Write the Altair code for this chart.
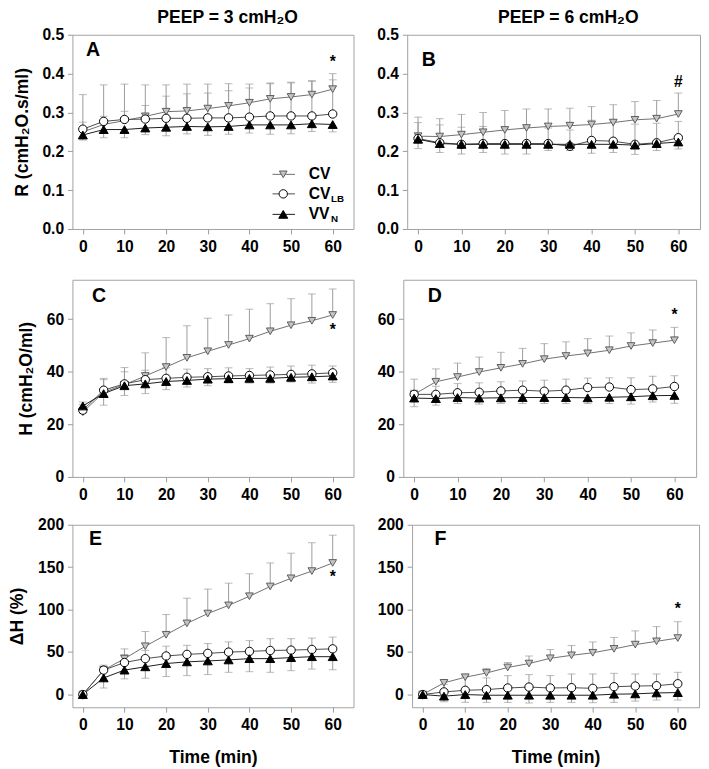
import altair as alt
import pandas as pd

FONT = "Liberation Sans"
ERR = "#9a9a9a"

t = [0, 5, 10, 15, 20, 25, 30, 35, 40, 45, 50, 55, 60]
series = ["CV", "CV_LB", "VV_N"]
x_ticks = [0, 10, 20, 30, 40, 50, 60]

# Panel A  (R, PEEP = 3)
A_CV = [0.250, 0.269, 0.279, 0.290, 0.302, 0.304, 0.310, 0.317, 0.325, 0.335, 0.340, 0.346, 0.360]
A_CV_e = [0.346, 0.371, 0.373, 0.371, 0.371, 0.373, 0.373, 0.374, 0.373, 0.376, 0.376, 0.380, 0.400]
A_LB = [0.257, 0.277, 0.282, 0.283, 0.285, 0.285, 0.286, 0.286, 0.288, 0.291, 0.291, 0.291, 0.296]
A_LB_e = [0.275, 0.290, 0.303, 0.318, 0.342, 0.348, 0.350, 0.356, 0.363, 0.374, 0.378, 0.382, 0.384]
A_VV = [0.242, 0.256, 0.256, 0.260, 0.262, 0.264, 0.263, 0.264, 0.268, 0.268, 0.268, 0.271, 0.269]
A_VV_e = [0.229, 0.235, 0.235, 0.243, 0.240, 0.245, 0.241, 0.244, 0.247, 0.244, 0.245, 0.251, 0.250]

# Panel B  (R, PEEP = 6)
B_CV = [0.239, 0.238, 0.243, 0.249, 0.255, 0.260, 0.264, 0.266, 0.269, 0.274, 0.281, 0.284, 0.296]
B_CV_e = [0.288, 0.284, 0.295, 0.300, 0.305, 0.309, 0.309, 0.311, 0.315, 0.320, 0.328, 0.331, 0.350]
B_LB = [0.233, 0.222, 0.218, 0.220, 0.220, 0.220, 0.220, 0.213, 0.228, 0.226, 0.218, 0.222, 0.235]
B_LB_e = [0.274, 0.268, 0.262, 0.264, 0.260, 0.262, 0.260, 0.255, 0.280, 0.275, 0.270, 0.272, 0.277]
B_VV = [0.231, 0.220, 0.218, 0.218, 0.218, 0.218, 0.218, 0.218, 0.218, 0.218, 0.216, 0.220, 0.224]
B_VV_e = [0.207, 0.197, 0.193, 0.197, 0.193, 0.193, 0.202, 0.202, 0.195, 0.197, 0.192, 0.202, 0.206]

# Panel C  (H, PEEP = 3)
C_CV = [24.6, 32.2, 35.1, 38.4, 41.8, 45.3, 47.8, 50.2, 52.6, 55.4, 57.7, 59.4, 61.6]
C_CV_e = [27.5, 37.5, 41.6, 47.2, 53.0, 57.5, 60.4, 61.6, 63.8, 65.9, 67.8, 69.6, 71.5]
C_LB = [25.4, 33.0, 35.4, 37.0, 37.5, 37.9, 38.1, 38.4, 38.6, 38.8, 39.0, 39.2, 39.6]
C_LB_e = [28.5, 37.0, 40.0, 40.6, 41.5, 41.0, 41.2, 41.5, 41.2, 41.8, 42.2, 42.5, 42.2]
C_VV = [27.0, 31.7, 34.7, 35.4, 36.3, 36.7, 37.2, 37.4, 37.5, 37.5, 37.9, 38.1, 38.4]
C_VV_e = [24.2, 27.3, 31.0, 31.7, 33.2, 34.2, 34.7, 35.7, 35.7, 35.7, 36.1, 35.7, 36.0]

# Panel D  (H, PEEP = 6)
D_CV = [31.4, 36.2, 38.0, 39.9, 41.5, 43.0, 44.8, 46.0, 47.0, 48.2, 49.8, 50.9, 52.0]
D_CV_e = [37.2, 41.1, 43.3, 45.6, 47.4, 48.9, 50.7, 51.4, 52.6, 53.6, 54.8, 55.9, 56.9]
D_LB = [31.4, 31.4, 32.0, 32.2, 32.7, 33.0, 32.6, 33.0, 34.0, 34.2, 33.2, 33.5, 34.4]
D_LB_e = [33.0, 34.5, 35.5, 35.8, 36.2, 36.5, 36.8, 37.2, 37.6, 37.7, 37.7, 38.3, 38.5]
D_VV = [30.0, 29.8, 30.2, 30.0, 30.1, 30.2, 30.2, 30.2, 30.1, 30.3, 30.5, 30.9, 31.0]
D_VV_e = [26.7, 27.3, 27.9, 27.7, 27.9, 27.9, 27.9, 27.9, 27.9, 27.9, 27.7, 28.5, 28.0]

# Panel E  (dH %, PEEP = 3)
E_CV = [0, 28.8, 42.3, 56.9, 70.4, 83.8, 95.4, 105.0, 115.8, 127.3, 136.9, 145.4, 155.0]
E_CV_e = [0, 34.6, 53.8, 74.2, 94.2, 113.5, 124.2, 131.2, 142.3, 155.0, 166.5, 178.8, 187.7]
E_LB = [0, 28.8, 37.7, 42.3, 45.4, 47.3, 48.5, 50.0, 50.8, 51.9, 52.3, 53.1, 53.8]
E_LB_e = [0, 33.0, 47.0, 52.0, 57.0, 58.0, 60.0, 62.0, 63.5, 65.8, 65.8, 66.5, 67.7]
E_VV = [0, 19.6, 28.8, 32.7, 36.5, 38.5, 39.6, 40.8, 42.3, 42.3, 43.5, 44.6, 44.6]
E_VV_e = [0, 7.7, 18.5, 19.2, 21.2, 22.3, 23.5, 26.2, 26.9, 26.2, 28.1, 30.0, 29.2]

# Panel F  (dH %, PEEP = 6)
F_CV = [0, 13.8, 20.4, 25.4, 31.9, 36.5, 42.7, 46.2, 49.2, 53.8, 58.8, 62.7, 66.5]
F_CV_e = [0, 16.5, 23.0, 30.8, 37.7, 45.4, 53.0, 57.7, 61.9, 67.3, 75.0, 80.0, 85.8]
F_LB = [0, 3.1, 5.0, 5.8, 7.7, 8.8, 7.7, 8.1, 7.3, 9.2, 10.0, 10.4, 12.7]
F_LB_e = [0, 12.0, 21.0, 19.6, 22.3, 23.5, 22.3, 24.2, 24.2, 25.0, 24.2, 24.2, 26.2]
F_VV = [0, -1.9, 0, -0.8, -0.8, -0.8, -0.8, -0.8, -0.8, 0.4, 0.8, 1.9, 2.3]
F_VV_e = [0, -8.5, -9.2, -9.2, -9.2, -10.0, -9.2, -9.2, -9.6, -9.2, -7.7, -6.5, -6.5]

line_colors = ["#6e6e6e", "#4a4a4a", "#1a1a1a"]
fill_colors = ["#c4c4c4", "#ffffff", "#000000"]
stroke_colors = ["#5a5a5a", "#000000", "#000000"]
shapes = ["triangle-down", "circle", "triangle-up"]
sizes = [62, 85, 62]


def sc(rng):
    return alt.Scale(domain=series, range=rng)


def panel(letter, vals, ydomain, yticks, yfmt, width, height, letter_xy,
          star, star_y, ytitle=None, xtitle=None, title=None, legend=False):
    cv, cv_e, lb, lb_e, vv, vv_e = vals
    df = pd.DataFrame({
        "t": t * 3,
        "v": cv + lb + vv,
        "e": cv_e + lb_e + vv_e,
        "s": ["CV"] * 13 + ["CV_LB"] * 13 + ["VV_N"] * 13,
    })
    xs = alt.Scale(domain=[-2.5, 65], nice=False, zero=False)
    ys = alt.Scale(domain=ydomain, nice=False, zero=False)
    xax = alt.Axis(values=x_ticks, format="d", labelPadding=5, titlePadding=17)
    yax = alt.Axis(values=yticks, format=yfmt, labelPadding=4, titlePadding=11)

    def X():
        return alt.X("t:Q", scale=xs, axis=xax, title=xtitle)

    def Y(f="v"):
        return alt.Y(f + ":Q", scale=ys, axis=yax, title=ytitle)

    base = alt.Chart(df)
    bars = base.mark_rule(color=ERR, strokeWidth=1).encode(x=X(), y=Y(), y2="e:Q")
    caps = base.mark_tick(color=ERR, orient="horizontal", size=8, thickness=1).encode(x=X(), y=Y("e"))
    lines = base.mark_line(strokeWidth=1).encode(
        x=X(), y=Y(),
        color=alt.Color("s:N", scale=sc(line_colors), legend=None))
    pts_enc = dict(
        shape=alt.Shape("s:N", scale=sc(shapes), legend=None),
        fill=alt.Fill("s:N", scale=sc(fill_colors), legend=None),
        stroke=alt.Stroke("s:N", scale=sc(stroke_colors), legend=None),
        size=alt.Size("s:N", scale=sc(sizes), legend=None),
    )
    pts = base.mark_point(opacity=1, fillOpacity=1, strokeWidth=1).encode(x=X(), y=Y(), **pts_enc)
    ann = alt.Chart(pd.DataFrame({"t": [60], "v": [star_y], "txt": [star]})).mark_text(
        font=FONT, fontSize=16, fontWeight="bold", color="black").encode(x=X(), y=Y(), text="txt:N")
    lab = alt.Chart(pd.DataFrame({"l": [letter]})).mark_text(
        font=FONT, fontSize=20, fontWeight="bold", color="black", align="left", baseline="middle"
    ).encode(x=alt.value(letter_xy[0]), y=alt.value(letter_xy[1]), text="l:N")
    layers = [bars, caps, lines, pts, ann, lab]
    if legend:
        leg = pd.DataFrame({"s": series, "py": [143, 163, 184],
                            "main": ["CV", "CV", "VV"], "sub": ["", "LB", "N"]})
        ly = alt.Y("py:Q", scale=None, axis=None)
        lb_ = alt.Chart(leg)
        layers += [
            lb_.mark_rule(strokeWidth=1).encode(
                x=alt.value(205), x2=alt.value(228), y=ly,
                color=alt.Color("s:N", scale=sc(line_colors), legend=None)),
            lb_.mark_point(opacity=1, fillOpacity=1, strokeWidth=1).encode(
                x=alt.value(216), y=ly, **pts_enc),
            lb_.mark_text(font=FONT, fontSize=16, fontWeight="bold", align="left",
                          baseline="middle", color="black").encode(
                x=alt.value(242), y=ly, text="main:N"),
            lb_.mark_text(font=FONT, fontSize=10, fontWeight="bold", align="left",
                          baseline="middle", color="black", dy=5).encode(
                x=alt.value(265), y=ly, text="sub:N"),
        ]
    ch = alt.layer(*layers).properties(width=width, height=height)
    if title:
        ch = ch.properties(title=alt.TitleParams(
            title, font=FONT, fontSize=18, fontWeight="bold", color="black",
            anchor="middle", frame="group", dx=15, offset=0))
    return ch


Rt = [0, 0.1, 0.2, 0.3, 0.4, 0.5]
Ht = [0, 20, 40, 60]
Dt = [0, 50, 100, 150, 200]

A = panel("A", [A_CV, A_CV_e, A_LB, A_LB_e, A_VV, A_VV_e], [0, 0.5], Rt, ".1f", 288, 199,
          (14, 16), "*", 0.43, ytitle="R (cmH₂O.s/ml)", title="PEEP = 3 cmH₂O", legend=True)
B = panel("B", [B_CV, B_CV_e, B_LB, B_LB_e, B_VV, B_VV_e], [0, 0.5], Rt, ".1f", 300, 199,
          (15, 26), "#", 0.377, title="PEEP = 6 cmH₂O")
C = panel("C", [C_CV, C_CV_e, C_LB, C_LB_e, C_VV, C_VV_e], [0, 75], Ht, "d", 288, 202,
          (20, 17), "*", 56, ytitle="H (cmH₂O/ml)")
D = panel("D", [D_CV, D_CV_e, D_LB, D_LB_e, D_VV, D_VV_e], [0, 75], Ht, "d", 300, 202,
          (25, 17), "*", 61.5)
E = panel("E", [E_CV, E_CV_e, E_LB, E_LB_e, E_VV, E_VV_e], [-15, 200], Dt, "d", 288, 187,
          (17, 15), "*", 138, ytitle="ΔH (%)", xtitle="Time (min)")
F = panel("F", [F_CV, F_CV_e, F_LB, F_LB_e, F_VV, F_VV_e], [-15, 200], Dt, "d", 294, 187,
          (23, 15), "*", 101, xtitle="Time (min)")

row1 = alt.hconcat(A, B, spacing=22)
row2 = alt.hconcat(C, D, spacing=22)
row3 = alt.hconcat(E, F, spacing=22)

top = alt.vconcat(row1, row2, spacing=24)
chart = alt.vconcat(top, row3, spacing=13).properties(
    padding={"left": 0, "top": -9, "right": 0, "bottom": 0}
).configure_view(
    stroke="#a0a0a0", strokeWidth=1
).configure_axis(
    domain=False, grid=False, tickColor="#999999", tickSize=5, tickWidth=1,
    labelFont=FONT, labelFontSize=16, labelFontWeight="bold", labelColor="black",
    labelFlush=False, labelOverlap=False,
    titleFont=FONT, titleFontSize=18, titleFontWeight="bold", titleColor="black",
)

chart.save("out.html", embed_options={"renderer": "svg", "actions": False})
